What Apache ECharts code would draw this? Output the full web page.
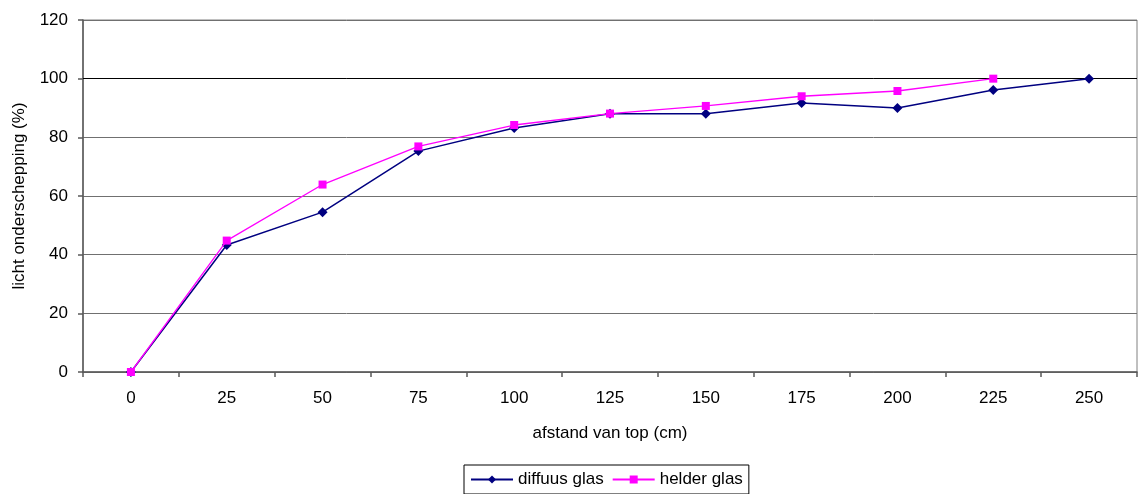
<!DOCTYPE html>
<html><head><meta charset="utf-8">
<script src="https://cdn.jsdelivr.net/npm/echarts@6/dist/echarts.min.js"></script>
<style>html,body{margin:0;padding:0;background:#fff}#c{width:1139px;height:494px}</style>
</head><body><div id="c"></div>
<script>
const categories = ['0','25','50','75','100','125','150','175','200','225','250'];
const diffuus = [0, 43.3, 54.5, 75.3, 83.2, 88, 88, 91.7, 90, 96.1, 100];
const helder = [0, 44.8, 63.9, 76.9, 84.2, 88.1, 90.7, 94, 95.8, 100, null];
const yTicks = [0, 20, 40, 60, 80, 100, 120];

const chart = echarts.init(document.getElementById('c'), null, {renderer: 'canvas'});
const font = 'Liberation Sans, Arial, sans-serif';
const fs = 17;
chart.setOption({
  animation: false,
  textStyle: {fontFamily: font},
  grid: {left: 83, right: 2, top: 20, bottom: 122, containLabel: false, outerBoundsMode: 'none',
    show: true, borderColor: '#808080', borderWidth: 1},
  legend: {
    bottom: 0, left: 464,
    data: ['diffuus glas', 'helder glas'],
    borderColor: '#000', borderWidth: 1, padding: [6, 6, 6, 6],
    itemWidth: 42, itemHeight: 10, itemGap: 8,
    textStyle: {fontFamily: font, fontSize: fs, color: '#000'}
  },
  xAxis: {
    type: 'category', data: categories, boundaryGap: true,
    name: 'afstand van top (cm)', nameLocation: 'middle', nameGap: 53,
    nameTextStyle: {fontFamily: font, fontSize: fs, color: '#000'},
    axisLine: {lineStyle: {color: '#595959', width: 1.5}},
    axisTick: {show: true, inside: false, length: 5, alignWithLabel: false, lineStyle: {color: '#595959', width: 1.5}},
    axisLabel: {fontFamily: font, fontSize: fs, color: '#000', margin: 18},
    splitLine: {show: false}
  },
  yAxis: {
    type: 'value', min: yTicks[0], max: yTicks[yTicks.length - 1], interval: 20,
    name: 'licht onderschepping (%)', nameLocation: 'middle', nameGap: 55,
    nameTextStyle: {fontFamily: font, fontSize: fs, color: '#000'},
    axisLine: {show: true, lineStyle: {color: '#595959', width: 1.5}},
    axisTick: {show: true, inside: false, length: 5, lineStyle: {color: '#595959', width: 1.5}},
    axisLabel: {fontFamily: font, fontSize: fs, color: '#000', margin: 15},
    splitLine: {show: true, lineStyle: {color: '#707070', width: 1}}
  },
  series: [
    {
      name: 'diffuus glas', type: 'line', data: diffuus,
      symbol: 'diamond', symbolSize: 10, showAllSymbol: true,
      lineStyle: {color: '#000080', width: 1.5},
      itemStyle: {color: '#000080'},
      z: 2,
      markLine: {silent: true, symbol: 'none', label: {show: false},
        lineStyle: {color: '#000', width: 1, type: 'solid'}, data: [{yAxis: 100}], z: 1}
    },
    {
      name: 'helder glas', type: 'line', data: helder,
      symbol: 'rect', symbolSize: 8, showAllSymbol: true,
      lineStyle: {color: '#FF00FF', width: 1.3},
      itemStyle: {color: '#FF00FF'},
      z: 3
    }
  ]
});
</script></body></html>
